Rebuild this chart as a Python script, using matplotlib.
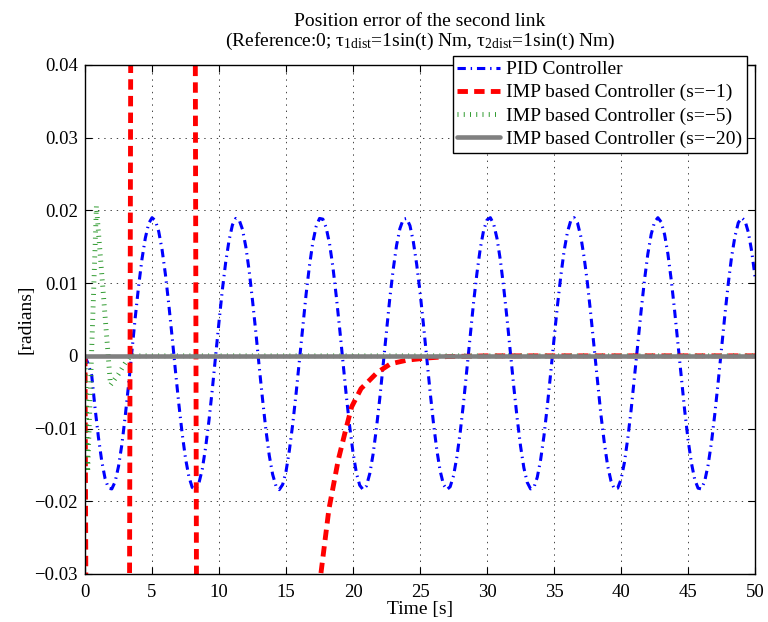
import numpy as np
import matplotlib
matplotlib.use('Agg')
import matplotlib.pyplot as plt

plt.rcParams['font.family'] = ['Liberation Serif', 'DejaVu Serif']
plt.rcParams['mathtext.fontset'] = 'stix'
plt.rcParams['lines.scale_dashes'] = False

# PID controller error (0.25 s steps)
t_pid = np.arange(0, 50.01, 0.25)
e_pid = [
    0.0000, -0.0012, -0.0027, -0.0072, -0.0112, -0.0145, -0.0169, -0.0182, -0.0183, -0.0173,
    -0.0152, -0.0122, -0.0083, -0.0040, 0.0007, 0.0053, 0.0096, 0.0133, 0.0162, 0.0182,
    0.0190, 0.0186, 0.0171, 0.0146, 0.0112, 0.0071, 0.0026, -0.0021, -0.0066, -0.0107,
    -0.0141, -0.0166, -0.0181, -0.0184, -0.0175, -0.0156, -0.0126, -0.0089, -0.0046, 0.0001,
    0.0047, 0.0091, 0.0129, 0.0159, 0.0180, 0.0189, 0.0187, 0.0174, 0.0150, 0.0117,
    0.0076, 0.0032, -0.0015, -0.0060, -0.0102, -0.0137, -0.0163, -0.0179, -0.0184, -0.0177,
    -0.0159, -0.0130, -0.0094, -0.0052, -0.0006, 0.0041, 0.0085, 0.0124, 0.0156, 0.0178,
    0.0189, 0.0188, 0.0176, 0.0154, 0.0122, 0.0082, 0.0038, -0.0009, -0.0055, -0.0097,
    -0.0133, -0.0161, -0.0178, -0.0184, -0.0179, -0.0162, -0.0135, -0.0099, -0.0058, -0.0012,
    0.0035, 0.0080, 0.0119, 0.0152, 0.0175, 0.0188, 0.0189, 0.0179, 0.0157, 0.0126,
    0.0088, 0.0044, -0.0003, -0.0049, -0.0092, -0.0129, -0.0158, -0.0177, -0.0184, -0.0180,
    -0.0165, -0.0139, -0.0105, -0.0064, -0.0018, 0.0029, 0.0074, 0.0114, 0.0148, 0.0173,
    0.0187, 0.0190, 0.0181, 0.0161, 0.0131, 0.0093, 0.0050, 0.0004, -0.0043, -0.0086,
    -0.0124, -0.0154, -0.0174, -0.0183, -0.0181, -0.0167, -0.0143, -0.0110, -0.0069, -0.0024,
    0.0023, 0.0068, 0.0109, 0.0144, 0.0170, 0.0186, 0.0190, 0.0183, 0.0164, 0.0135,
    0.0099, 0.0056, 0.0010, -0.0037, -0.0081, -0.0119, -0.0151, -0.0172, -0.0183, -0.0182,
    -0.0170, -0.0147, -0.0114, -0.0075, -0.0030, 0.0016, 0.0062, 0.0104, 0.0140, 0.0167,
    0.0184, 0.0190, 0.0184, 0.0167, 0.0140, 0.0104, 0.0062, 0.0016, -0.0030, -0.0075,
    -0.0115, -0.0147, -0.0170, -0.0182, -0.0183, -0.0172, -0.0150, -0.0119, -0.0080, -0.0036,
    0.0010, 0.0056, 0.0099, 0.0136, 0.0164, 0.0183, 0.0190, 0.0186, 0.0170, 0.0144,
    0.0109,
]

# IMP based controller, s=-1 (leaves the axis range between 0 and ~17.6 s)
t_s1 = [0.0, 0.1, 1.0, 2.0, 3.0, 3.3, 3.36, 3.42, 4.5, 6.0, 7.5, 8.22, 8.28, 8.34,
        10.0, 12.0, 14.0, 16.0, 17.0, 17.6, 18.2, 18.9, 19.45, 19.9, 20.6, 21.1,
        21.8, 22.8, 24.0, 25.5, 27.0, 30.0, 40.0, 50.0]
e_s1 = [0.0, -0.05, -0.3, -0.5, -0.3, -0.05, 0.0, 0.05, 0.4, 0.5, 0.3, 0.05, 0.0, -0.05,
        -0.4, -0.4, -0.25, -0.1, -0.05, -0.030, -0.0211, -0.0143, -0.0102, -0.0070,
        -0.0045, -0.0036, -0.0023, -0.0011, -0.0006, -0.0003, -0.0001, 0.0, 0.0, 0.0]

# IMP based controller, s=-5
t_s5 = [0.0, 0.2, 0.85, 1.9, 2.5, 3.0, 3.4, 4.0, 50.0]
e_s5 = [0.0, -0.016, 0.0206, -0.004, -0.0025, -0.001, 0.0, 0.0, 0.0]

# IMP based controller, s=-20
t_s20 = [0.0, 50.0]
e_s20 = [0.0, 0.0]

fig = plt.figure(figsize=(7.68, 6.22), dpi=100)
ax = fig.add_axes([0.1107, 0.0772, 0.8724, 0.8183])

ax.plot(t_pid, e_pid, color='#0000ff', lw=2.2, linestyle=(0, (6, 3.5, 1, 3.5)),
        label='PID Controller')
ax.plot(t_s1, e_s1, color='#ff0000', lw=3.5, linestyle=(0, (7.5, 4.5)),
        label='IMP based Controller (s=\u22121)')
ax.plot(t_s5, e_s5, color='#2e9a2e', lw=3.5, linestyle=(0, (0.7, 3.8)),
        label='IMP based Controller (s=\u22125)')
ax.plot(t_s20, e_s20, color='#808080', lw=3.3, solid_capstyle='round',
        label='IMP based Controller (s=\u221220)')

ax.set_xlim(0, 50)
ax.set_ylim(-0.03, 0.04)
ax.set_xticks(np.arange(0, 51, 5))
ax.set_yticks(np.arange(-0.03, 0.041, 0.01))
ax.set_yticklabels(['\u22120.03', '\u22120.02', '\u22120.01', '0', '0.01', '0.02', '0.03', '0.04'])
ax.tick_params(direction='in', length=5, width=0.8, top=True, right=True,
               labelsize=13.5, pad=5)
ax.tick_params(axis='x', pad=7)
ax.grid(True, linestyle=(0, (1, 3.5)), color='#444444', lw=0.7)
for sp in ax.spines.values():
    sp.set_linewidth(1.0)

ax.set_xlabel('Time [s]', fontsize=14, labelpad=0)
ax.set_ylabel('[radians]', fontsize=14, labelpad=0)
ax.set_title('Position error of the second link\n'
             '(Reference:0; $\\mathregular{\u03c4_{1dist}}$=1sin(t) Nm, '
             '$\\mathregular{\u03c4_{2dist}}$=1sin(t) Nm)', fontsize=14, pad=14,
             linespacing=1.05)

leg = ax.legend(loc='upper right', bbox_to_anchor=(0.988, 1.018), borderaxespad=0,
                fontsize=14, fancybox=False, framealpha=1, edgecolor='black',
                handlelength=2.2, handletextpad=0.3, labelspacing=0.28,
                borderpad=0.25)
leg.get_frame().set_linewidth(1.0)

fig.savefig('out.png', dpi=100)
